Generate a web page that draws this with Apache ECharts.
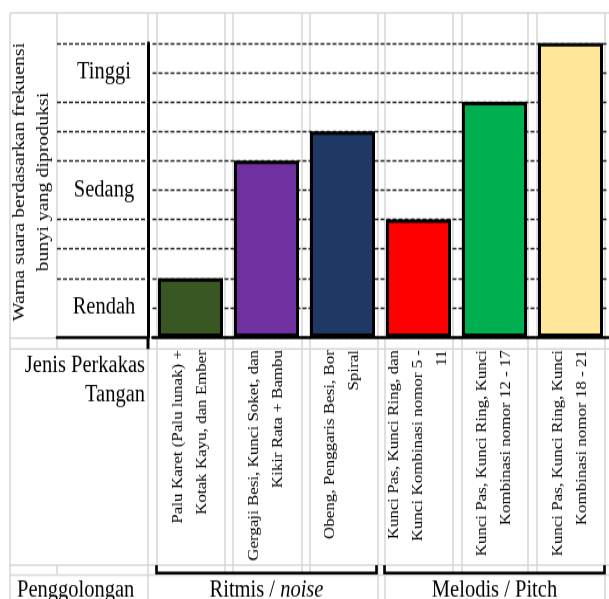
<!DOCTYPE html>
<html>
<head>
<meta charset="utf-8">
<script src="https://cdn.jsdelivr.net/npm/echarts@6/dist/echarts.min.js"></script>
<style>
  html, body { margin: 0; padding: 0; background: #fff; }
  #chart { width: 609px; height: 599px; transform-origin: 0 0; }
</style>
</head>
<body>
<div id="chart"></div>
<script>
// data
const categories = [
  'Palu Karet (Palu lunak) +\nKotak Kayu, dan Ember',
  'Gergaji Besi, Kunci Soket, dan\nKikir Rata + Bambu',
  'Obeng, Penggaris Besi, Bor\nSpiral',
  'Kunci Pas, Kunci Ring, dan\nKunci Kombinasi nomor 5 -\n11',
  'Kunci Pas, Kunci Ring, Kunci\nKombinasi nomor 12 - 17',
  'Kunci Pas, Kunci Ring, Kunci\nKombinasi nomor 18 - 21'
];
const levels = [2, 6, 7, 4, 8, 10];
const barColors = ['#385723', '#7030A0', '#203864', '#FF0000', '#00B050', '#FFE699'];
const levelLabels = { 1: 'Rendah', 5: 'Sedang', 9: 'Tinggi' };
const leftDashLevels = [2, 3, 4, 6, 7, 8, 10];
const groupNames = [['Ritmis / ', 'noise'], ['Melodis / Pitch', '']];
const groupRanges = [[0, 2], [3, 5]];

// the source picture is stretched vertically, so draw squashed and stretch with css
const SY = 1.17;
const s = v => v / SY;
const dom = document.getElementById('chart');
dom.style.transform = 'scaleY(' + SY + ')';

const FONT = '"Liberation Serif", "Times New Roman", serif';
const GREY = '#d6d6d6';
const DASH = { color: '#222', type: [4, 2], width: 1.4 };
const BAR_W = 65, BAR_BORDER = 3;

const chart = echarts.init(dom);

const option = {
  animation: false,
  grid: [
    { left: 152.5, right: 0.5, top: s(43), height: s(294) },
    { left: 57, width: 91.5, top: s(43), height: s(294) }
  ],
  xAxis: [
    {
      type: 'category', gridIndex: 0, data: categories,
      axisLine: { lineStyle: { color: '#000', width: 2.6 } },
      axisTick: { show: false },
      axisLabel: {
        interval: 0, rotate: 90, margin: s(13),
        fontFamily: FONT, fontSize: 14.5, lineHeight: 24, color: '#000'
      }
    },
    {
      type: 'category', gridIndex: 1, data: [''],
      axisLine: { lineStyle: { color: '#000', width: 2.6 } },
      axisTick: { show: false }, axisLabel: { show: false }
    }
  ],
  yAxis: [
    {
      type: 'value', gridIndex: 0, min: 0, max: 10, interval: 1, offset: 4.5,
      axisLine: { show: true, lineStyle: { color: '#000', width: 3 } },
      axisTick: { show: false },
      splitLine: { lineStyle: DASH },
      axisLabel: {
        formatter: v => levelLabels[v] || '',
        margin: 44, align: 'center',
        fontFamily: FONT, fontSize: 20.5, color: '#000'
      }
    },
    { type: 'value', gridIndex: 1, min: 0, max: 10, interval: 1, show: false }
  ],
  series: [
    {
      type: 'bar', xAxisIndex: 0, yAxisIndex: 0, barWidth: BAR_W, z: 3,
      itemStyle: { borderColor: '#000', borderWidth: BAR_BORDER },
      data: levels.map((v, i) => ({ value: v, itemStyle: { color: barColors[i] } }))
    },
    {
      type: 'line', xAxisIndex: 1, yAxisIndex: 1, data: [],
      markLine: {
        silent: true, symbol: 'none', label: { show: false },
        lineStyle: DASH,
        data: leftDashLevels.map(v => ({ yAxis: v }))
      }
    }
  ]
};
chart.setOption(option);

// table decoration (spreadsheet cells, brackets, side texts)
const gfx = [];
const line = (x1, y1, x2, y2, color, w, z) => gfx.push({
  type: 'line', z: z, silent: true,
  shape: { x1: x1, y1: s(y1), x2: x2, y2: s(y2) },
  style: { stroke: color, lineWidth: w }
});
const text = (x, y, str, opts) => gfx.push(Object.assign({
  type: 'text', x: x, y: s(y), z: 20, silent: true,
  style: Object.assign({
    text: str, fill: '#000', fontFamily: FONT, fontSize: 20.5,
    align: 'left', verticalAlign: 'middle', textAlign: 'left', textVerticalAlign: 'middle'
  }, opts.style || {})
}, opts.el || {}));

// grey grid of the sheet
[13, 349, 565, 575].forEach(y => line(10, y, 609, y, GREY, 1.5, -1));
line(10, 338, 57, 338, GREY, 1.5, -1);
line(10, 13, 10, 599, GREY, 1.5, -1);
line(57, 13, 57, 349, GREY, 1.5, -1);
line(57, 565, 57, 575, GREY, 1.5, -1);
[148, 378, 385, 605].forEach(x => line(x, 13, x, 599, GREY, 1.5, -1));
[157, 225, 233, 302, 310, 453, 462, 528, 537].forEach(x => line(x, 13, x, 575, GREY, 1.5, -1));

// y axis runs a little below the x axis
line(148, 337, 148, 349, '#000', 3, 10);

// brackets under the groups
const half = (BAR_W + BAR_BORDER) / 2;
groupRanges.forEach((r, gi) => {
  const x1 = chart.convertToPixel({ xAxisIndex: 0 }, r[0]) - half;
  const x2 = chart.convertToPixel({ xAxisIndex: 0 }, r[1]) + half;
  gfx.push({
    type: 'polyline', z: 10, silent: true,
    shape: { points: [[x1, s(565)], [x1, s(573)], [x2, s(573)], [x2, s(565)]] },
    style: { stroke: '#000', lineWidth: 2.6, fill: null }
  });
  const g = groupNames[gi];
  text((x1 + x2) / 2, 590, '{a|' + g[0] + '}' + (g[1] ? '{b|' + g[1] + '}' : ''), {
    style: {
      align: 'center', textAlign: 'center',
      rich: {
        a: { fontFamily: FONT, fontSize: 20.5, fill: '#000' },
        b: { fontFamily: FONT, fontSize: 20.5, fill: '#000', fontStyle: 'italic' }
      }
    }
  });
});

// side texts
text(32, 182, 'Warna suara berdasarkan frekuensi\nbunyi yang diproduksi', {
  el: { rotation: Math.PI / 2 },
  style: { fontSize: 17, lineHeight: 24, align: 'center', textAlign: 'center' }
});
text(145, 380, 'Jenis Perkakas\nTangan', {
  style: { align: 'right', textAlign: 'right', lineHeight: s(29) }
});
text(17, 590, 'Penggolongan', {});

chart.setOption({ graphic: { elements: gfx } });
</script>
</body>
</html>
